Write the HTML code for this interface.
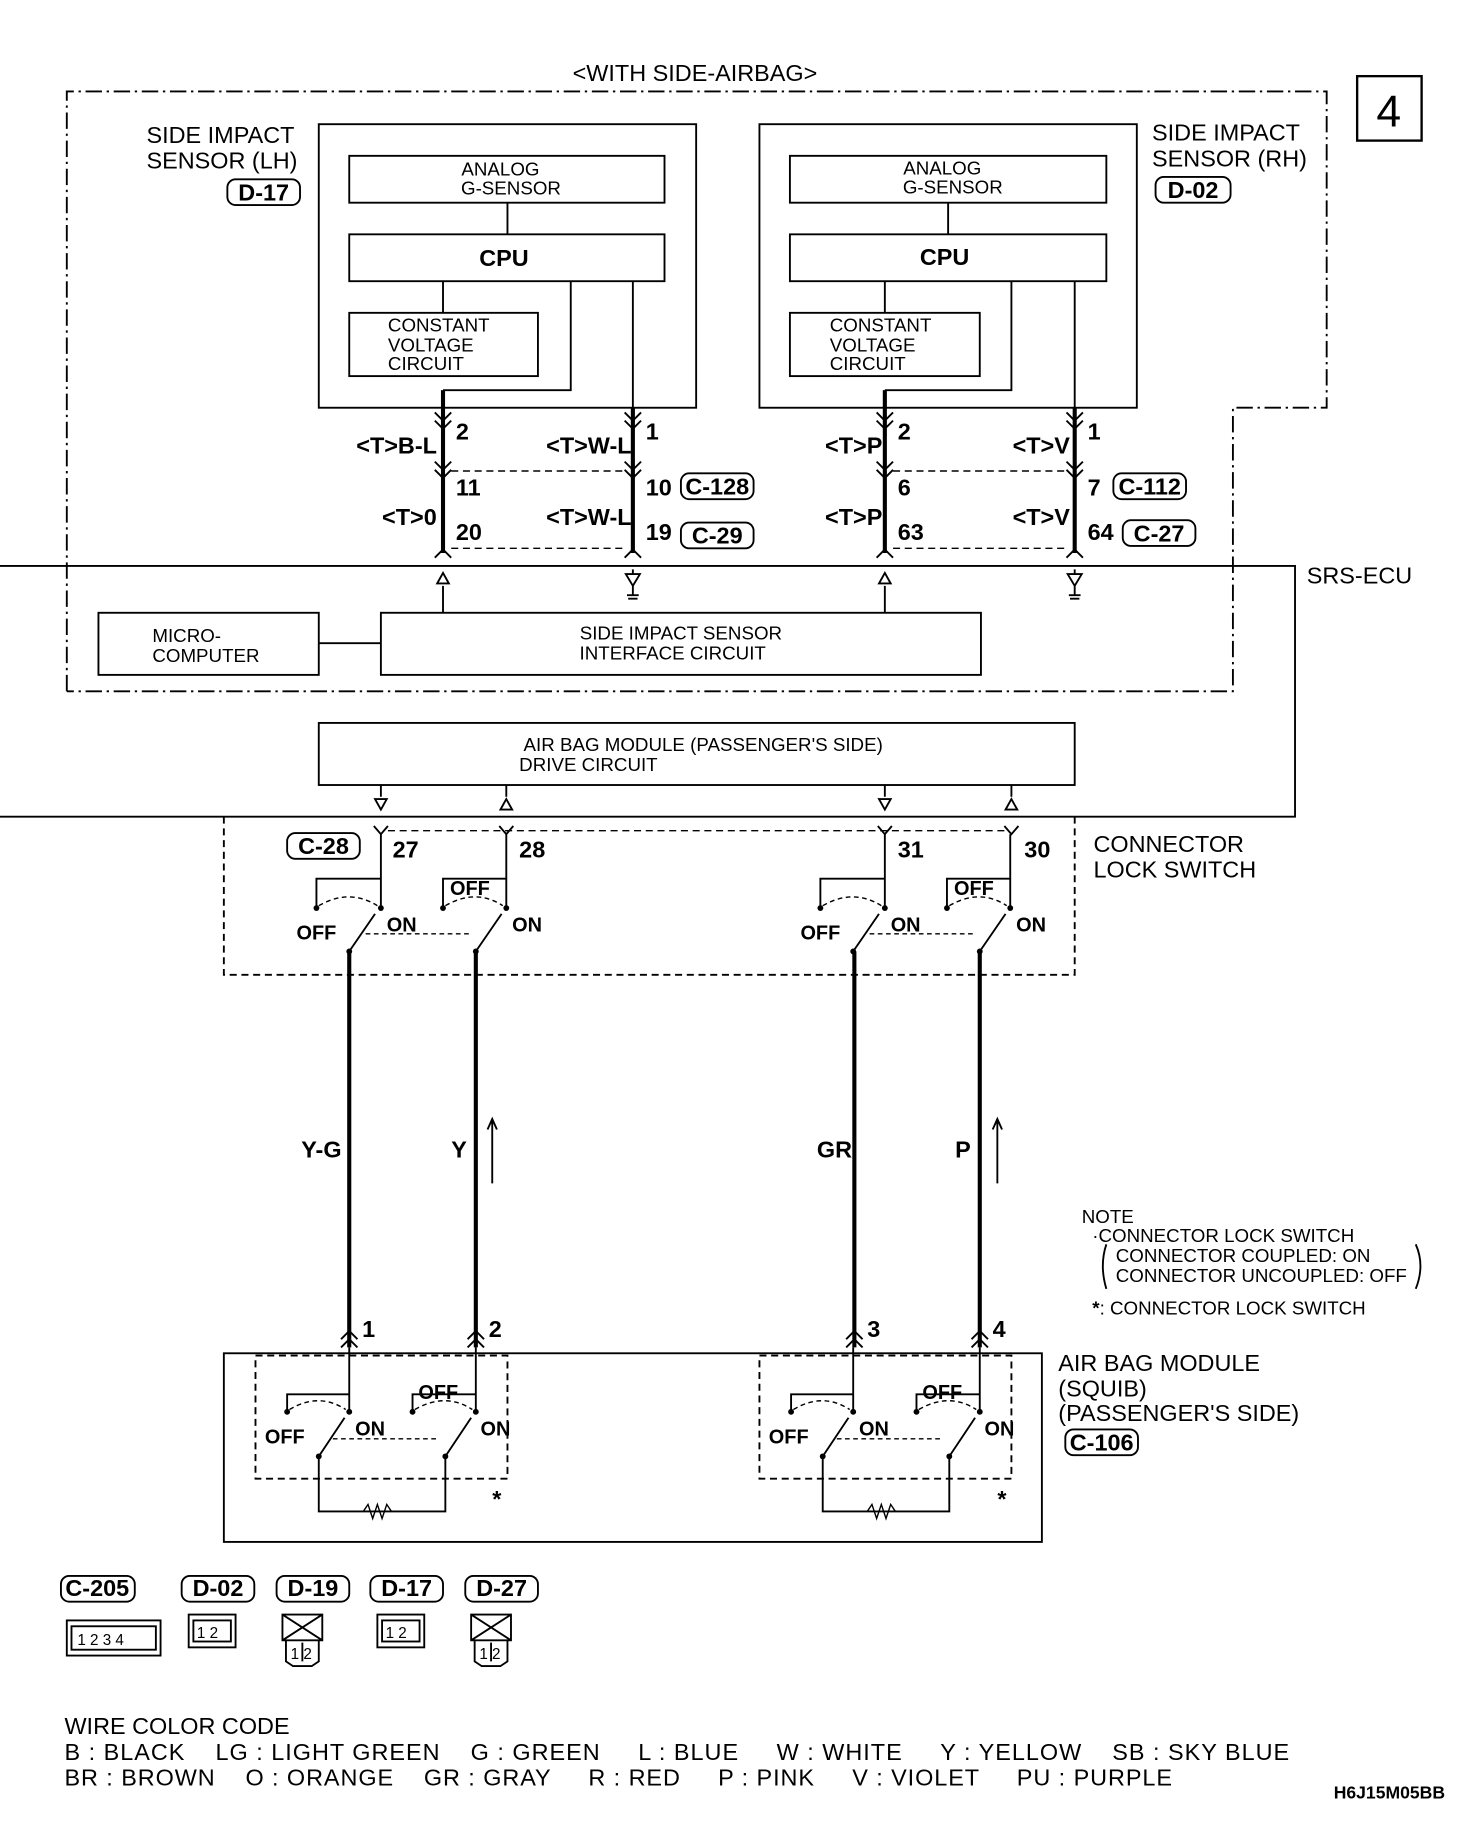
<!DOCTYPE html>
<html><head><meta charset="utf-8"><style>
html,body{margin:0;padding:0;background:#fff;}
svg{display:block;}
text{font-family:"Liberation Sans",sans-serif;fill:#000;}
.b{font-weight:bold;}
</style></head><body>
<svg width="1472" height="1836" viewBox="0 0 1256 1567" preserveAspectRatio="none" xmlns="http://www.w3.org/2000/svg">
<g fill="none" stroke="#000" stroke-width="1.6">
<path d="M57,590 V78 H1132 V348 H1052 V590 H57" stroke-dasharray="14,4,2,4"/>
<rect x="1158" y="65" width="55" height="55" stroke-width="2"/>
<rect x="272" y="106" width="322" height="242"/>
<rect x="298" y="133" width="269" height="40"/>
<rect x="298" y="200" width="269" height="40"/>
<rect x="298" y="267" width="161" height="54"/>
<path d="M433,173V200 M378,240V267 M487,240V333H378"/>
<rect x="648" y="106" width="322" height="242"/>
<rect x="674" y="133" width="270" height="40"/>
<rect x="674" y="200" width="270" height="40"/>
<rect x="674" y="267" width="162" height="54"/>
<path d="M809,173V200 M755,240V267 M863,240V333H755"/>
<path d="M540,240V348 M917,240V348"/>
<path d="M378,333V472 M540,348V472 M755,333V472 M917,348V472" stroke-width="3.5"/>
<path d="M371,352l7,7l7,-7 M371,359l7,7l7,-7 M533,352l7,7l7,-7 M533,359l7,7l7,-7 M748,352l7,7l7,-7 M748,359l7,7l7,-7 M910,352l7,7l7,-7 M910,359l7,7l7,-7"/>
<path d="M371,394l7,7l7,-7 M371,401l7,7l7,-7 M533,394l7,7l7,-7 M533,401l7,7l7,-7 M748,394l7,7l7,-7 M748,401l7,7l7,-7 M910,394l7,7l7,-7 M910,401l7,7l7,-7"/>
<path d="M371,476l7,-7l7,7 M533,476l7,-7l7,7 M748,476l7,-7l7,7 M910,476l7,-7l7,7"/>
<path d="M385,402H533 M385,468H533 M762,402H910 M762,468H910" stroke-dasharray="6,4" stroke-width="1.2"/>
<rect x="194" y="153" width="62" height="22" rx="7"/>
<rect x="986" y="151" width="64" height="22" rx="7"/>
<rect x="581" y="404" width="62" height="22" rx="7"/>
<rect x="581" y="446" width="62" height="22" rx="7"/>
<rect x="950" y="404" width="62" height="22" rx="7"/>
<rect x="958" y="444" width="62" height="22" rx="7"/>
<rect x="245" y="711" width="62" height="22" rx="7"/>
<rect x="909" y="1220" width="62" height="22" rx="7"/>
<path d="M30,483H1105V697H0 M0,483H30"/>
<path d="M378,500V523 M755,500V523 M272,549H325"/>
<path d="M373,498l5,-9l5,9z M750,498l5,-9l5,9z"/>
<path d="M540,486V490 M534,490h12l-6,10z M540,500V508 M535,508h10 M536,511h8"/>
<path d="M917,486V490 M911,490h12l-6,10z M917,500V508 M912,508h10 M913,511h8"/>
<rect x="84" y="523" width="188" height="53"/>
<rect x="325" y="523" width="512" height="53"/>
<rect x="272" y="617" width="645" height="53"/>
<path d="M325,670V680 M320,682h10l-5,9z M432,670V680 M427,691h10l-5,-9z M755,670V680 M750,682h10l-5,9z M863,670V680 M858,691h10l-5,-9z"/>
<path d="M191,697V832H917V697" stroke-dasharray="6,4"/>
<path d="M319,705l6,7l6,-7 M426,705l6,7l6,-7 M749,705l6,7l6,-7 M857,705l6,7l6,-7"/>
<path d="M331,709H857" stroke-dasharray="6,4" stroke-width="1.2"/>
<g id="sw">
<path d="M325,712V775 M325,750H270V775 M432,712V775 M432,750H378V775 M298,812L320,780 M406,812L428,780"/>
<path d="M272,773Q298,758 322,773 M380,773Q406,758 429,773 M312,797H400" stroke-dasharray="4,3" stroke-width="1.2"/>
<g fill="#000" stroke="none"><circle cx="270" cy="775" r="2.5"/><circle cx="325" cy="775" r="2.5"/><circle cx="378" cy="775" r="2.5"/><circle cx="432" cy="775" r="2.5"/><circle cx="298" cy="812" r="2.5"/><circle cx="406" cy="812" r="2.5"/></g>
</g>
<use href="#sw" transform="translate(430,0)"/>
<path d="M298,812V1150 M406,812V1150 M729,812V1150 M836,812V1150" stroke-width="3.5"/>
<path d="M420,1010V955 M416,964l4,-9l4,9 M851,1010V955 M847,964l4,-9l4,9"/>
<path d="M291,1143l7,-7l7,7 M291,1150l7,-7l7,7 M399,1143l7,-7l7,7 M399,1150l7,-7l7,7 M722,1143l7,-7l7,7 M722,1150l7,-7l7,7 M829,1143l7,-7l7,7 M829,1150l7,-7l7,7"/>
<rect x="191" y="1155" width="698" height="161"/>
<g id="sq">
<rect x="218" y="1157" width="215" height="105" stroke-dasharray="6,4"/>
<path d="M298,1150V1205 M298,1190H245V1205 M406,1150V1205 M406,1190H352V1205 M272,1243L294,1210 M380,1243L402,1210 M272,1243V1290H380V1243"/>
<path d="M247,1203Q272,1188 295,1203 M354,1203Q380,1188 403,1203 M284,1228H372" stroke-dasharray="4,3" stroke-width="1.2"/>
<path d="M310,1290l4,-6l4,12l4,-12l4,12l4,-12l4,6" stroke-width="1.2"/>
<g fill="#000" stroke="none"><circle cx="245" cy="1205" r="2.5"/><circle cx="298" cy="1205" r="2.5"/><circle cx="352" cy="1205" r="2.5"/><circle cx="406" cy="1205" r="2.5"/><circle cx="272" cy="1243" r="2.5"/><circle cx="380" cy="1243" r="2.5"/></g>
</g>
<use href="#sq" transform="translate(430,0)"/>
<path d="M944,1062Q938,1080 944,1100 M1208,1062Q1216,1080 1208,1100"/>
<rect x="52" y="1345" width="63" height="22" rx="7"/>
<rect x="155" y="1345" width="62" height="22" rx="7"/>
<rect x="236" y="1345" width="62" height="22" rx="7"/>
<rect x="316" y="1345" width="62" height="22" rx="7"/>
<rect x="397" y="1345" width="62" height="22" rx="7"/>
<rect x="57" y="1383" width="80" height="30"/><rect x="61" y="1388" width="72" height="20"/>
<rect x="161" y="1378" width="40" height="28"/><rect x="165" y="1383" width="32" height="18"/>
<rect x="322" y="1378" width="40" height="28"/><rect x="326" y="1383" width="32" height="18"/>
<path d="M241,1378h34v22h-34z M241,1378l34,22 M275,1378l-34,22 M244,1400h28v18l-6,4h-16l-6,-4z M258,1402v16"/>
<path d="M402,1378h34v22h-34z M402,1378l34,22 M436,1378l-34,22 M405,1400h28v18l-6,4h-16l-6,-4z M419,1402v16"/>
</g>
<g font-size="20">
<text x="593" y="69" text-anchor="middle">&lt;WITH SIDE-AIRBAG&gt;</text>
<text x="1185" y="108" text-anchor="middle" font-size="38">4</text>
<text x="125" y="122">SIDE IMPACT</text><text x="125" y="144">SENSOR (LH)</text>
<text x="983" y="120">SIDE IMPACT</text><text x="983" y="142">SENSOR (RH)</text>
<text x="1115" y="498">SRS-ECU</text>
<text x="933" y="727">CONNECTOR</text><text x="933" y="749">LOCK SWITCH</text>
<text x="903" y="1170">AIR BAG MODULE</text><text x="903" y="1192">(SQUIB)</text><text x="903" y="1213">(PASSENGER'S SIDE)</text>
<text x="55" y="1480">WIRE COLOR CODE</text>
<text x="55" y="1502" textLength="1045" lengthAdjust="spacing">B : BLACK &#160;&#160;&#160;LG : LIGHT GREEN &#160;&#160;&#160;G : GREEN &#160;&#160;&#160;&#160;L : BLUE &#160;&#160;&#160;&#160;W : WHITE &#160;&#160;&#160;&#160;Y : YELLOW &#160;&#160;&#160;SB : SKY BLUE</text>
<text x="55" y="1524" textLength="945" lengthAdjust="spacing">BR : BROWN &#160;&#160;&#160;O : ORANGE &#160;&#160;&#160;GR : GRAY &#160;&#160;&#160;&#160;R : RED &#160;&#160;&#160;&#160;P : PINK &#160;&#160;&#160;&#160;V : VIOLET &#160;&#160;&#160;&#160;PU : PURPLE</text>
</g>
<g font-size="16" text-anchor="middle">
<text x="427" y="150">ANALOG</text><text x="436" y="166">G-SENSOR</text>
<text x="804" y="149">ANALOG</text><text x="813" y="165">G-SENSOR</text>
<text x="581" y="546">SIDE IMPACT SENSOR</text><text x="574" y="563">INTERFACE CIRCUIT</text>
<text x="600" y="641">AIR BAG MODULE (PASSENGER'S SIDE)</text>
</g>
<g font-size="16">
<text x="331" y="283">CONSTANT</text><text x="331" y="300">VOLTAGE</text><text x="331" y="316">CIRCUIT</text>
<text x="708" y="283">CONSTANT</text><text x="708" y="300">VOLTAGE</text><text x="708" y="316">CIRCUIT</text>
<text x="130" y="548">MICRO-</text><text x="130" y="565">COMPUTER</text>
<text x="443" y="658">DRIVE CIRCUIT</text>
<text x="923" y="1044">NOTE</text>
<text x="932" y="1060">·CONNECTOR LOCK SWITCH</text>
<text x="952" y="1077">CONNECTOR COUPLED: ON</text>
<text x="952" y="1094">CONNECTOR UNCOUPLED: OFF</text>
<text x="932" y="1122"><tspan font-weight="bold">*</tspan>: CONNECTOR LOCK SWITCH</text>
</g>
<g font-size="20" class="b">
<text x="430" y="227" text-anchor="middle">CPU</text><text x="806" y="226" text-anchor="middle">CPU</text>
<text x="225" y="171" text-anchor="middle">D-17</text><text x="1018" y="169" text-anchor="middle">D-02</text>
<text x="612" y="422" text-anchor="middle">C-128</text><text x="612" y="464" text-anchor="middle">C-29</text>
<text x="981" y="422" text-anchor="middle">C-112</text><text x="989" y="462" text-anchor="middle">C-27</text>
<text x="276" y="729" text-anchor="middle">C-28</text><text x="940" y="1238" text-anchor="middle">C-106</text>
<text x="304" y="387">&lt;T&gt;B-L</text><text x="389" y="375">2</text>
<text x="466" y="387">&lt;T&gt;W-L</text><text x="551" y="375">1</text>
<text x="704" y="387">&lt;T&gt;P</text><text x="766" y="375">2</text>
<text x="864" y="387">&lt;T&gt;V</text><text x="928" y="375">1</text>
<text x="389" y="423">11</text><text x="551" y="423">10</text><text x="766" y="423">6</text><text x="928" y="423">7</text>
<text x="326" y="448">&lt;T&gt;0</text><text x="389" y="461">20</text>
<text x="466" y="448">&lt;T&gt;W-L</text><text x="551" y="461">19</text>
<text x="704" y="448">&lt;T&gt;P</text><text x="766" y="461">63</text>
<text x="864" y="448">&lt;T&gt;V</text><text x="928" y="461">64</text>
<text x="335" y="732">27</text><text x="443" y="732">28</text><text x="766" y="732">31</text><text x="874" y="732">30</text>
<text x="257" y="988">Y-G</text><text x="385" y="988">Y</text><text x="697" y="988">GR</text><text x="815" y="988">P</text>
<text x="309" y="1141">1</text><text x="417" y="1141">2</text><text x="740" y="1141">3</text><text x="847" y="1141">4</text>
<text x="420" y="1286">*</text><text x="851" y="1286">*</text>
<text x="83" y="1362" text-anchor="middle">C-205</text><text x="186" y="1362" text-anchor="middle">D-02</text>
<text x="267" y="1362" text-anchor="middle">D-19</text><text x="347" y="1362" text-anchor="middle">D-17</text>
<text x="428" y="1362" text-anchor="middle">D-27</text>
</g>
<g font-size="17" class="b">
<text x="253" y="802">OFF</text><text x="330" y="795">ON</text><text x="384" y="764">OFF</text><text x="437" y="795">ON</text>
<text x="683" y="802">OFF</text><text x="760" y="795">ON</text><text x="814" y="764">OFF</text><text x="867" y="795">ON</text>
<text x="226" y="1232">OFF</text><text x="303" y="1225">ON</text><text x="357" y="1194">OFF</text><text x="410" y="1225">ON</text>
<text x="656" y="1232">OFF</text><text x="733" y="1225">ON</text><text x="787" y="1194">OFF</text><text x="840" y="1225">ON</text>
<text x="1138" y="1535" font-size="15">H6J15M05BB</text>
</g>
<g font-size="13">
<text x="66" y="1404">1 2 3 4</text><text x="168" y="1398">1 2</text><text x="329" y="1398">1 2</text>
<text x="248" y="1416">1 2</text><text x="409" y="1416">1 2</text>
</g>
</svg>
</body></html>
